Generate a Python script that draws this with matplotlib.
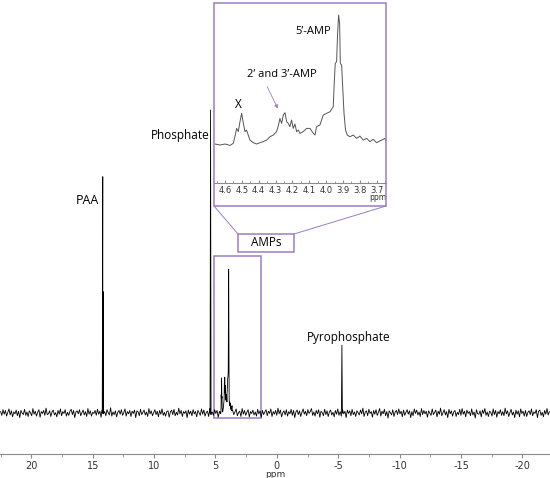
import numpy as np
import matplotlib
matplotlib.use('Agg')
import matplotlib.pyplot as plt
from matplotlib.patches import Rectangle
from matplotlib.lines import Line2D
from matplotlib.ticker import MultipleLocator

plt.rcParams['axes.unicode_minus'] = False

# Inset trace (AMP region), ppm and intensity (5'-AMP top = 100)
amp_ppm = [4.659, 4.630, 4.600, 4.570, 4.551, 4.541, 4.531, 4.521, 4.511, 4.501,
           4.491, 4.481, 4.472, 4.462, 4.452, 4.432, 4.412, 4.392, 4.373, 4.353,
           4.333, 4.313, 4.294, 4.284, 4.274, 4.264, 4.254, 4.244, 4.234, 4.225,
           4.215, 4.205, 4.195, 4.185, 4.175, 4.165, 4.155, 4.136, 4.116, 4.096,
           4.076, 4.066, 4.057, 4.037, 4.017, 3.997, 3.977, 3.958, 3.952, 3.946,
           3.938, 3.932, 3.926, 3.920, 3.916, 3.908, 3.902, 3.894, 3.885, 3.875,
           3.859, 3.839, 3.819, 3.800, 3.780, 3.760, 3.740, 3.721, 3.701, 3.671,
           3.651, 3.642]
amp_int = [0.8, 0.0, 0.8, -0.3, 1.3, 6.4, 12.8, 10.3, 17.9, 24.4,
           16.7, 10.3, 11.5, 7.7, 3.8, 1.8, 0.8, 1.8, 2.6, 3.8,
           6.4, 7.7, 10.3, 14.6, 20.5, 16.7, 23.1, 24.9, 17.9, 16.7,
           14.1, 19.2, 12.8, 16.2, 10.3, 11.5, 9.0, 10.3, 12.8, 12.8,
           9.0, 7.7, 14.1, 15.4, 23.1, 24.4, 25.6, 29.5, 47.4, 62.8,
           64.1, 85.9, 100.0, 93.6, 62.8, 61.5, 44.9, 24.4, 11.5, 7.7,
           6.4, 7.7, 5.1, 6.9, 3.8, 5.1, 2.6, 4.4, 1.8, 3.8,
           5.1, 1.8]
amp_scale = 0.475  # 5'-AMP height in the full spectrum (phosphate = 100)

# Sharp lines in the full spectrum
peak_ppm = [14.18, 14.13, 5.40, -5.30]
peak_int = [78.0, 40.0, 100.0, 22.4]
peak_labels = ['PAA', 'Phosphate', 'Pyrophosphate']

# Baseline noise (eighths of intensity units)
noise = [4, -6, 9, -3, 7, -8, 2, 11, -5, 6, -10, 3, -2, 8, -7, 5, -12, 7, 0, -4,
         10, -6, 3, -9, 6, 1, -7, 12, -3, 5, -8, 2, 9, -11, 4, -1, 7, -6, 13, -4,
         -2, 6, -9, 3, 8, -5, 1, -10, 7, -3, 11, -7, 4, -1, 9, -8, 2, -6, 5, 10,
         -4, 7, -12, 3, 6, -2, 9, -7, 1, 8, -5, 4, -9, 12, -3, 6, -8, 2, -1, 7,
         -6, 10, -3, 5, -11, 8, -2, 4, -7, 9, 1, -5, 14, -8, 3, -4, 6, -10, 2, 7,
         -3, 9, -6, 1, 11, -8, 4, -2, 7, -9, 5, -1, 8, -12, 6, 3, -7, 10, -4, 2,
         8, -5, 3, -9, 12, -2, 6, -7, 1, 9, -4, 5, -10, 7, -3, 11, -6, 2, -8, 4,
         6, -11, 3, 8, -4, 10, -7, 2, -5, 13, -2, 7, -9, 4, -1, 6, -12, 8, -3, 5,
         -7, 9, -2, 4, -10, 7, 1, -6, 11, -3, 8, -8, 2, 5, -9, 12, -4, 3, -6, 9,
         -1, 7, -11, 4, 6, -3, 10, -8, 2, -5, 9, -2, 6, -13, 8, -4, 3, 11, -7, 1,
         5, -9, 12, -3, 7, -6, 2, 9, -10, 4, -1, 8, -5, 3, -8, 10, -2, 6, -11, 7,
         -4, 3, 9, -7, 5, -1, 11, -9, 4, -3, 7, -6, 13, -2, 8, -10, 1, 6, -5, 9,
         -8, 4, -2, 10, -6, 7, -12, 3, 8, -4, 6, -9, 2, 11, -3, 5, -7, 9, -1, 4,
         12, -6, 3, -8, 7, -2, 9, -11, 5, 1, -7, 10, -4, 6, -9, 3, 8, -5, 2, -10,
         7, -3, 11, -6, 4, -8, 9, -2, 5, -12, 8, -1, 6, -7, 10, -4, 3, -9, 6, 1,
         -5, 8, -2, 13, -9, 3, 6, -7, 10, -1, 4, -11, 7, -3, 9, -6, 2, 12, -8, 5,
         -2, 10, -7, 4, -13, 6, 1, -5, 9, -9, 3, 7, -4, 11, -2, 5, -10, 8, -6, 2,
         9, -3, 6, -12, 4, -7, 11, -1, 8, -5, 3, -9, 12, -4, 7, -2, 5, -11, 6, 0,
         -6, 11, -4, 2, 8, -10, 5, -3, 13, -7, 1, 9, -5, 4, -12, 10, -2, 6, -8, 3,
         7, -9, 2, -4, 10, -6, 12, -3, 5, -10, 8, -1, 4, -7, 11, -5, 3, -13, 9, -2,
         -3, 6, -10, 8, -1, 12, -6, 3, -9, 5, 2, -8, 11, -4, 7, -11, 4, -2, 9, -6,
         4, -7, 13, -2, 6, -9, 1, 10, -5, 3, -12, 8, -3, 6, -10, 11, -1, 5, -8, 7,
         -9, 2, 6, -4, 11, -7, 3, -1, 9, -12, 5, 8, -6, 2, -10, 7, -3, 12, -5, 4]

purple = '#9c7cc2'
label_font = ['Open Sans', 'DejaVu Sans']

# build the full spectrum: noise baseline + sharp lines + AMP region
grid = np.linspace(22.5, -22.2, len(noise))
base = np.array(noise) / 8.0
keep = (grid > max(amp_ppm)) | (grid < min(amp_ppm))
xs = list(grid[keep])
ys = list(base[keep])
for p, h in zip(peak_ppm, peak_int):
    xs += [p + 0.04, p, p - 0.04]
    ys += [0.0, h, 0.0]
xs += amp_ppm
ys += [v * amp_scale for v in amp_int]
order = np.argsort(xs)[::-1]
spec_x = np.array(xs)[order]
spec_y = np.array(ys)[order]

fig = plt.figure(figsize=(5.5, 4.78), dpi=100)

ax = fig.add_axes([0, 24 / 478, 1, 454 / 478])
ax.plot(spec_x, spec_y, color='black', lw=0.6)
ax.set_xlim(22.55, -22.25)
ax.set_ylim(-13.5, 136.3)
for s in ['top', 'left', 'right']:
    ax.spines[s].set_visible(False)
ax.spines['bottom'].set_color('#8c8c8c')
ax.set_yticks([])
ax.xaxis.set_major_locator(MultipleLocator(5))
ax.xaxis.set_minor_locator(MultipleLocator(2.5))
ax.tick_params(axis='x', which='both', direction='out', color='#8c8c8c',
               labelsize=7, labelcolor='#333333', pad=2)
ax.tick_params(axis='x', which='major', length=3)
ax.tick_params(axis='x', which='minor', length=2)
ax.set_xlabel('ppm', fontsize=6.5, color='#333333', labelpad=-1)

ax.text(14.45, 70, peak_labels[0], ha='right', va='center', fontsize=9, family=label_font)
ax.text(5.48, 91.7, peak_labels[1], ha='right', va='center', fontsize=8.5, family=label_font)
ax.text(-5.83, 25, peak_labels[2], ha='center', va='center', fontsize=8.5, family=label_font)

ax.add_patch(Rectangle((1.30, -1.65), 3.83, 53.45, fill=False, ec=purple, lw=1.1))

# inset
axi = fig.add_axes([214 / 550, (478 - 183) / 478, 172 / 550, 178 / 478])
axi.plot(amp_ppm, amp_int, color='#555555', lw=0.7)
axi.set_xlim(4.665, 3.645)
axi.set_ylim(-29.2, 107.7)
axi.patch.set_alpha(0)
for s in ['top', 'left', 'right']:
    axi.spines[s].set_visible(False)
axi.spines['bottom'].set_color('#8c8c8c')
axi.set_yticks([])
axi.xaxis.set_major_locator(MultipleLocator(0.1))
axi.xaxis.set_minor_locator(MultipleLocator(0.05))
axi.tick_params(axis='x', which='both', direction='in', color='#8c8c8c',
                labelsize=6, labelcolor='#333333', pad=2)
axi.tick_params(axis='x', which='major', length=2.5)
axi.tick_params(axis='x', which='minor', length=1.5)
axi.set_xlabel('ppm', fontsize=5.5, color='#333333', loc='right', labelpad=-1)

axi.text(4.523, 30.8, 'X', ha='center', va='center', fontsize=8.5, family=label_font)
axi.text(4.262, 54.6, '2’ and 3’-AMP', ha='center', va='center', fontsize=8, family=label_font)
axi.text(4.078, 87, '5’-AMP', ha='center', va='center', fontsize=8, family=label_font)
axi.annotate('', xy=(4.28, 26.2), xytext=(4.357, 46.9),
             arrowprops=dict(arrowstyle='-|>', color=purple, lw=0.6, mutation_scale=5))

# purple frame around the inset, the AMPs box and the connectors
fig.add_artist(Rectangle((214 / 550, (478 - 206) / 478), 172 / 550, 203 / 478,
                         transform=fig.transFigure, fill=False, ec=purple, lw=1.1))
fig.add_artist(Rectangle((238 / 550, (478 - 252) / 478), 56 / 550, 18 / 478,
                         transform=fig.transFigure, fill=False, ec=purple, lw=1.1))
fig.text(266 / 550, (478 - 243) / 478, 'AMPs', ha='center', va='center',
         fontsize=8.5, family=label_font)
fig.add_artist(Line2D([214 / 550, 238 / 550], [(478 - 206) / 478, (478 - 234) / 478],
                      transform=fig.transFigure, color=purple, lw=0.7))
fig.add_artist(Line2D([386 / 550, 294 / 550], [(478 - 206) / 478, (478 - 234) / 478],
                      transform=fig.transFigure, color=purple, lw=0.7))

fig.savefig('out.png', dpi=100)
